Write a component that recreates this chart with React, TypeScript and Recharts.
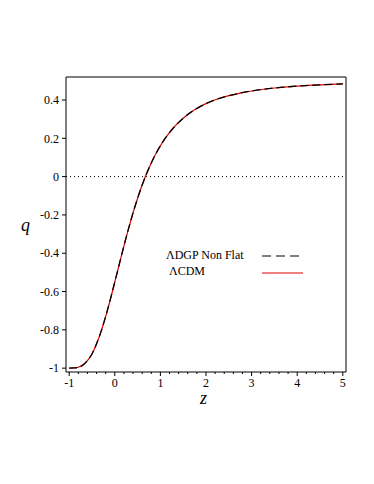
import React from "react";
import { LineChart, Line, XAxis, YAxis, ReferenceLine } from "recharts";

const zValues = [-1, -0.9, -0.8, -0.7, -0.6, -0.5, -0.4, -0.3, -0.2, -0.1, 0, 0.1, 0.2, 0.3, 0.4, 0.5, 0.6, 0.7, 0.8, 0.9, 1, 1.1, 1.2, 1.35, 1.5, 1.75, 2, 2.25, 2.5, 2.75, 3, 3.5, 4, 4.5, 5];
const qDGP = [-1, -0.999, -0.995, -0.984, -0.96, -0.926, -0.873, -0.808, -0.73, -0.643, -0.55, -0.456, -0.362, -0.273, -0.189, -0.113, -0.044, 0.017, 0.071, 0.119, 0.161, 0.198, 0.23, 0.271, 0.305, 0.349, 0.381, 0.405, 0.4226, 0.436, 0.447, 0.4626, 0.4725, 0.479, 0.484];
const qLCDM = [-1, -0.999, -0.995, -0.984, -0.96, -0.926, -0.873, -0.808, -0.73, -0.643, -0.55, -0.456, -0.362, -0.273, -0.189, -0.113, -0.044, 0.017, 0.071, 0.119, 0.161, 0.198, 0.23, 0.271, 0.305, 0.349, 0.381, 0.405, 0.4226, 0.436, 0.447, 0.4626, 0.4725, 0.479, 0.484];
const xTicks = [-1, -0.8, -0.6, -0.4, -0.2, 0, 0.2, 0.4, 0.6, 0.8, 1, 1.2, 1.4, 1.6, 1.8, 2, 2.2, 2.4, 2.6, 2.8, 3, 3.2, 3.4, 3.6, 3.8, 4, 4.2, 4.4, 4.6, 4.8, 5];
const xMajor = [-1, 0, 1, 2, 3, 4, 5];
const yTicks = [-1, -0.8, -0.6, -0.4, -0.2, 0, 0.2, 0.4];
const seriesNames = ["ΛDGP Non Flat", "ΛCDM"];
const xDomain = [-1.07, 5.07];
const yDomain = [-1.02, 0.52];

const data = zValues.map((z, i) => ({ z, dgp: qDGP[i], lcdm: qLCDM[i] }));

const FONT = "'Liberation Serif', 'DejaVu Serif', serif";

const XTick = (props: any) => {
  const { x, y, payload } = props;
  const v = payload.value;
  const major = xMajor.some((m) => Math.abs(m - v) < 1e-6);
  const axisY = y - 7;
  return (
    <g>
      <line x1={x} x2={x} y1={axisY} y2={axisY + (major ? 4 : 2)} stroke="#000" strokeWidth={1} />
      {major && (
        <text x={x} y={axisY + 15} textAnchor="middle" fontSize={12} fontFamily={FONT} fill="#000">
          {String(v)}
        </text>
      )}
    </g>
  );
};

export default function App() {
  return (
    <div style={{ marginLeft: -8, marginTop: -8, position: "relative", width: 374, height: 484 }}>
      <LineChart width={374} height={484} data={data} margin={{ top: 77, right: 28, bottom: 82, left: 26 }}>
        <XAxis
          dataKey="z"
          type="number"
          domain={xDomain}
          ticks={xTicks}
          interval={0}
          tickLine={false}
          tickSize={4}
          tickMargin={3}
          height={30}
          allowDataOverflow
          axisLine={{ stroke: "#000", strokeWidth: 1 }}
          tick={<XTick />}
        />
        <YAxis
          type="number"
          domain={yDomain}
          ticks={yTicks}
          interval={0}
          width={40}
          tickSize={4}
          tickMargin={3}
          allowDataOverflow
          axisLine={{ stroke: "#000" }}
          tickLine={{ stroke: "#000" }}
          tick={{ fontSize: 12, fontFamily: FONT, fill: "#000" }}
          tickFormatter={(v: number) => String(v)}
        />
        <ReferenceLine y={yDomain[1]} stroke="#000" strokeWidth={1} />
        <ReferenceLine x={xDomain[1]} stroke="#000" strokeWidth={1} />
        <ReferenceLine y={0} stroke="#000" strokeDasharray="1 3" strokeWidth={1} />
        <Line dataKey="lcdm" type="monotone" stroke="#e00000" strokeWidth={1.2} dot={false} isAnimationActive={false} />
        <Line dataKey="dgp" type="monotone" stroke="#000" strokeWidth={1.3} strokeDasharray="8 4" dot={false} isAnimationActive={false} />
      </LineChart>
      <div style={{ position: "absolute", left: 166, top: 248, fontFamily: FONT, fontSize: 12, color: "#000", width: 150, height: 36 }}>
        <div style={{ position: "absolute", left: 0, top: 0, whiteSpace: "nowrap" }}>{seriesNames[0]}</div>
        <div style={{ position: "absolute", left: 3, top: 16, whiteSpace: "nowrap" }}>{seriesNames[1]}</div>
        <svg width={50} height={36} style={{ position: "absolute", left: 94, top: 0 }}>
          <line x1={2} x2={43} y1={8} y2={8} stroke="#000" strokeWidth={1.2} strokeDasharray="9 5" />
          <line x1={2} x2={43} y1={25} y2={25} stroke="#e00000" strokeWidth={1} />
        </svg>
      </div>
      <div style={{ position: "absolute", left: 21, top: 215, fontFamily: FONT, fontStyle: "italic", fontSize: 18 }}>q</div>
      <div style={{ position: "absolute", left: 200, top: 388, fontFamily: FONT, fontStyle: "italic", fontSize: 18 }}>z</div>
    </div>
  );
}
